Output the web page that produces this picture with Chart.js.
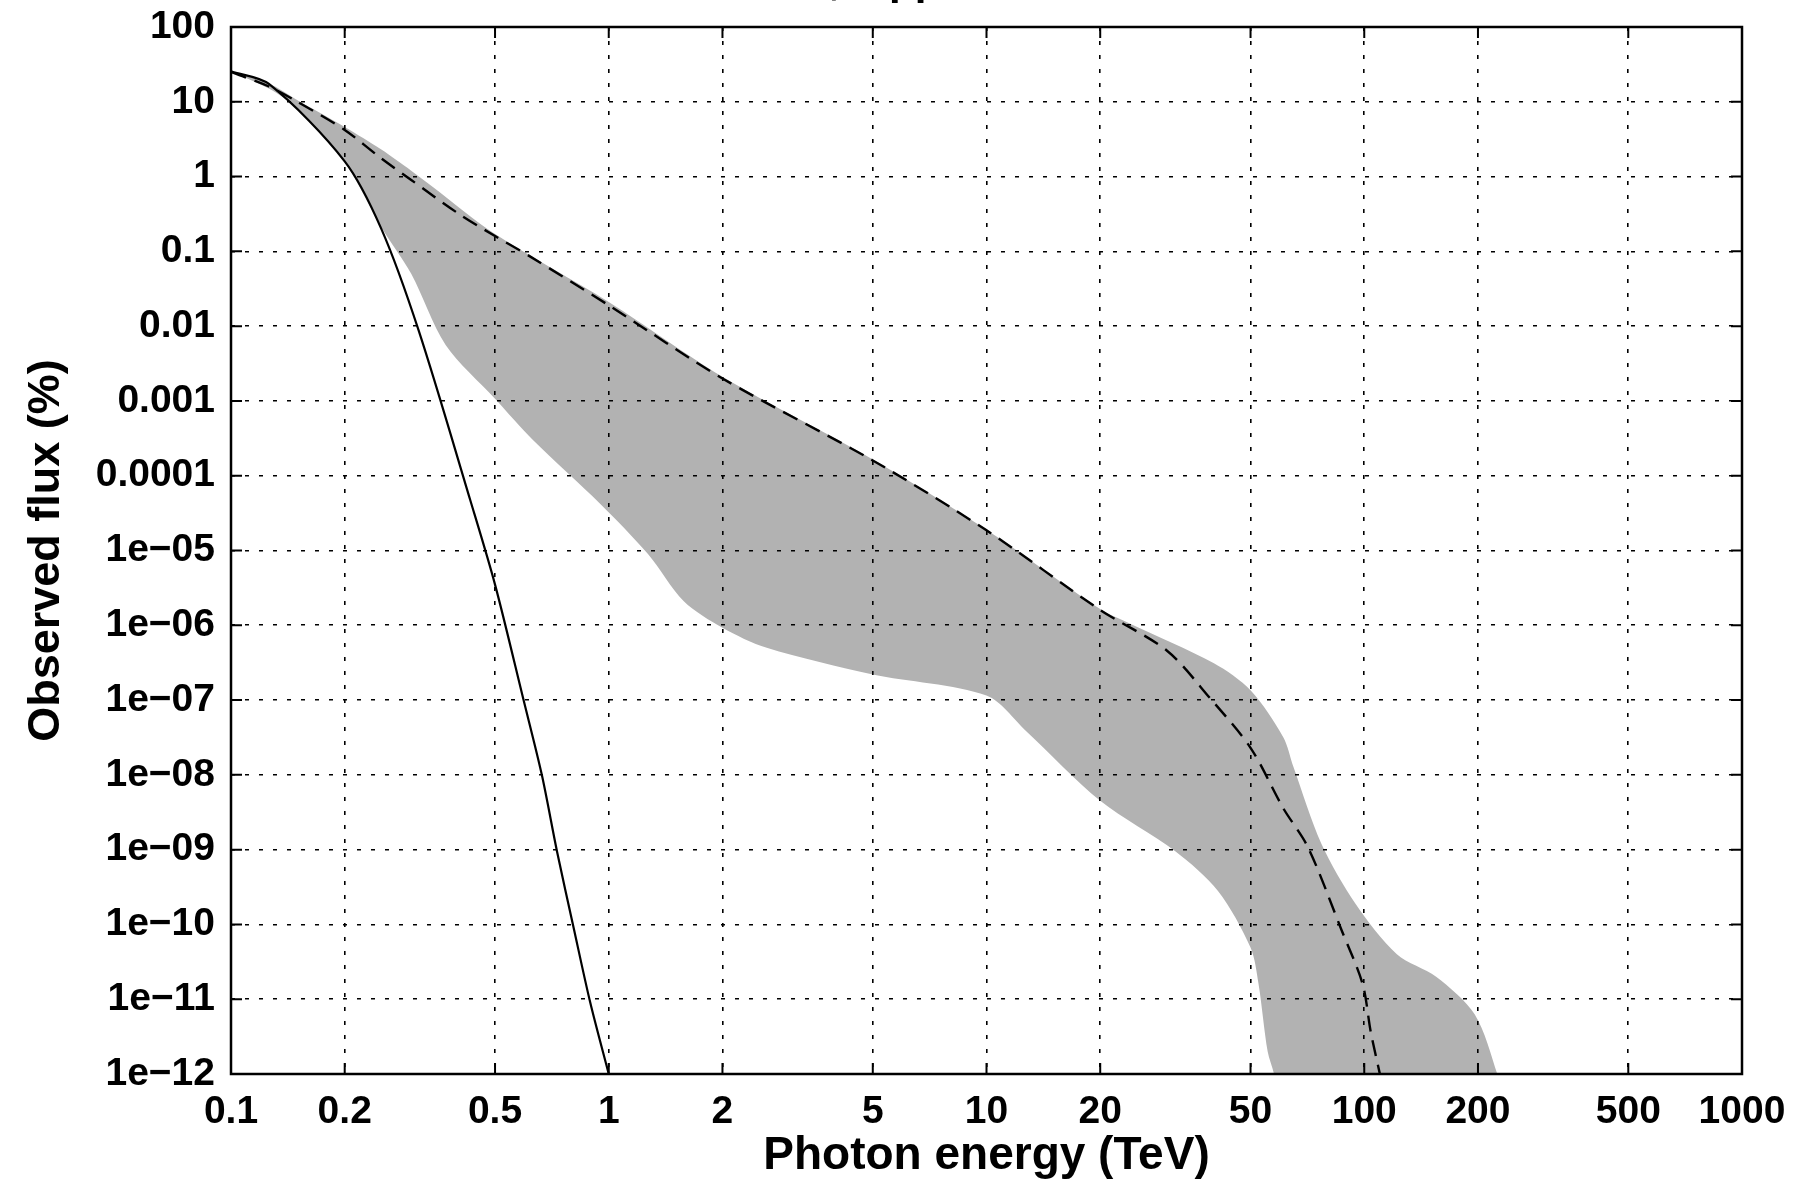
<!DOCTYPE html>
<html>
<head>
<meta charset="utf-8">
<script src="https://cdn.jsdelivr.net/npm/chart.js@4.4.1/dist/chart.umd.min.js"></script>
<style>
  html, body { margin: 0; padding: 0; background: #fff; }
</style>
</head>
<body>
<canvas id="graphCanvas" width="1809" height="1184"></canvas>
<script>
// 実線（急峻に減衰する曲線）
const solidEnergy = [0.1, 0.126, 0.2, 0.25, 0.314, 0.43, 0.5, 0.595, 0.665, 0.73, 0.807, 0.893, 1.0];
const solidFlux = [25.5, 17.3, 1.6, 0.2, 0.0087, 4.7e-5, 3.5e-6, 1e-7, 1e-8, 9.3e-10, 9.1e-11, 9.1e-12, 1e-12];

// 破線
const dashedEnergy = [0.1, 0.126, 0.15, 0.2, 0.25, 0.3, 0.4, 0.5, 0.62, 1, 2, 5, 10, 20, 30, 39, 50, 61, 71, 87, 99, 104, 110];
const dashedFlux = [25, 16, 10, 4.2, 1.75, 0.9, 0.32, 0.16, 0.085, 0.019, 0.002, 1.6e-4, 1.86e-5, 1.6e-6, 4.6e-7, 1.07e-7, 2.3e-8, 3.6e-9, 1.07e-9, 8.5e-11, 1.6e-11, 3.7e-12, 1e-12];

// 灰色の帯（上側・下側の境界）
const bandUpperEnergy = [0.1, 0.126, 0.15, 0.2, 0.25, 0.3, 0.343, 0.5, 1, 2, 5, 10, 20, 24, 40, 50, 61, 65, 77, 95, 122, 155, 196, 225, 240];
const bandUpperFlux = [25.5, 17.6, 10.5, 4.6, 2.3, 1.2, 0.72, 0.17, 0.021, 0.0021, 1.65e-4, 1.9e-5, 1.65e-6, 1.05e-6, 3.1e-7, 1.35e-7, 3.2e-8, 1.26e-8, 1.2e-9, 1.86e-10, 4e-11, 2e-11, 6.3e-12, 1e-12, 3e-13];
const bandLowerEnergy = [0.1, 0.126, 0.15, 0.2, 0.25, 0.3, 0.37, 0.5, 0.63, 0.95, 1.27, 1.58, 2, 2.62, 5, 10, 12.7, 20, 31.6, 41, 50, 52.5, 55.5, 57.7, 59];
const bandLowerFlux = [25.5, 15, 8.1, 1.55, 0.21, 0.05, 0.0056, 0.00107, 3e-4, 4.2e-5, 9e-6, 2.1e-6, 9.3e-7, 5e-7, 2.2e-7, 1.15e-7, 3.9e-8, 4.5e-9, 9.5e-10, 2.8e-10, 4.9e-11, 1.6e-11, 2e-12, 1e-12, 5e-13];

// 目盛り
const xTickValues = [0.1, 0.2, 0.5, 1, 2, 5, 10, 20, 50, 100, 200, 500, 1000];
const xTickLabels = ["0.1", "0.2", "0.5", "1", "2", "5", "10", "20", "50", "100", "200", "500", "1000"];
const yTickValues = [1e-12, 1e-11, 1e-10, 1e-9, 1e-8, 1e-7, 1e-6, 1e-5, 1e-4, 1e-3, 1e-2, 1e-1, 1, 10, 100];
const yTickLabels = ["1e\u221212", "1e\u221211", "1e\u221210", "1e\u221209", "1e\u221208", "1e\u221207", "1e\u221206", "1e\u221205",
  "0.0001", "0.001", "0.01", "0.1", "1", "10", "100"];

// 上端で切れているタイトルの一部
const titleComma = ",";
const titlePp = "pp";

const FONT = "'Liberation Sans', Arial, sans-serif";

const toPoints = (xs, ys) => xs.map((x, i) => ({ x: x, y: ys[i] }));

// 帯は上側を左→右、下側を右→左でつないだ閉じた図形
const bandPoints = toPoints(bandUpperEnergy, bandUpperFlux)
  .concat(toPoints(bandLowerEnergy, bandLowerFlux).reverse());

const frameTicks = {
  id: "frameTicks",
  afterDraw(chart) {
    const { ctx, chartArea: a, scales } = chart;
    const xs = scales.x, ys = scales.y;
    ctx.save();
    ctx.strokeStyle = "#000";
    ctx.lineWidth = 2;
    ctx.setLineDash([]);
    ctx.beginPath();
    xTickValues.forEach((v) => {
      const px = xs.getPixelForValue(v);
      if (px <= a.left + 1 || px >= a.right - 1) return;
      ctx.moveTo(px, a.bottom);
      ctx.lineTo(px, a.bottom - 11);
      ctx.moveTo(px, a.top);
      ctx.lineTo(px, a.top + 11);
    });
    yTickValues.forEach((v) => {
      const py = ys.getPixelForValue(v);
      if (py <= a.top + 1 || py >= a.bottom - 1) return;
      ctx.moveTo(a.left, py);
      ctx.lineTo(a.left + 11, py);
      ctx.moveTo(a.right, py);
      ctx.lineTo(a.right - 11, py);
    });
    ctx.stroke();
    ctx.lineWidth = 2.5;
    ctx.strokeRect(a.left, a.top, a.right - a.left, a.bottom - a.top);

    ctx.font = "bold 42px " + FONT;
    ctx.fillStyle = "#000";
    ctx.textBaseline = "alphabetic";
    ctx.textAlign = "left";
    ctx.fillText(titleComma, 829, -6);
    ctx.fillText(titlePp, 889, -6);
    ctx.restore();
  },
};

let ctx = document.getElementById("graphCanvas").getContext("2d");

let data = {
  datasets: [
    {
      label: "solid",
      data: toPoints(solidEnergy, solidFlux),
      showLine: true,
      pointRadius: 0,
      borderColor: "#000",
      borderWidth: 2.2,
      tension: 0.3,
      fill: false,
    },
    {
      label: "dashed",
      data: toPoints(dashedEnergy, dashedFlux),
      showLine: true,
      pointRadius: 0,
      borderColor: "#000",
      borderWidth: 2.4,
      borderDash: [16, 9],
      tension: 0.3,
      fill: false,
    },
    {
      label: "band",
      data: bandPoints,
      showLine: true,
      pointRadius: 0,
      borderWidth: 0,
      borderColor: "rgba(0,0,0,0)",
      backgroundColor: "#b2b2b2",
      tension: 0.3,
      fill: "shape",
    },
  ],
};

let options = {
  responsive: false,
  animation: false,
  maintainAspectRatio: false,
  layout: { padding: { top: 27, right: 67, left: 0, bottom: 0 } },
  plugins: {
    legend: { display: false },
    tooltip: { enabled: false },
    title: { display: false },
  },
  scales: {
    x: {
      type: "logarithmic",
      min: 0.1,
      max: 1000,
      afterBuildTicks: (scale) => {
        scale.ticks = xTickValues.map((v) => ({ value: v }));
      },
      afterFit: (scale) => {
        scale.height = 110;
        scale.paddingLeft = 0;
        scale.paddingRight = 0;
      },
      grid: { display: true, drawTicks: false, color: "#000", lineWidth: 1.6, z: 1 },
      border: { display: false, dash: [4, 10] },
      ticks: {
        autoSkip: false,
        maxRotation: 0,
        padding: 15,
        color: "#000",
        font: { family: FONT, size: 39, weight: "bold" },
        callback: (value, index) => xTickLabels[index],
      },
      title: {
        display: true,
        text: "Photon energy (TeV)",
        color: "#000",
        padding: { top: 0, bottom: 0 },
        font: { family: FONT, size: 46, weight: "bold" },
      },
    },
    y: {
      type: "logarithmic",
      min: 1e-12,
      max: 100,
      afterBuildTicks: (scale) => {
        scale.ticks = yTickValues.map((v) => ({ value: v }));
      },
      afterFit: (scale) => {
        scale.width = 231;
        scale.paddingTop = 0;
        scale.paddingBottom = 0;
      },
      grid: { display: true, drawTicks: false, color: "#000", lineWidth: 1.6, z: 1 },
      border: { display: false, dash: [4, 10] },
      ticks: {
        autoSkip: false,
        padding: 16,
        color: "#000",
        font: { family: FONT, size: 39, weight: "bold" },
        callback: (value, index) => yTickLabels[index],
      },
      title: {
        display: true,
        text: "Observed flux (%)",
        color: "#000",
        padding: { top: 20, bottom: 0 },
        font: { family: FONT, size: 45, weight: "bold" },
      },
    },
  },
};

let graphChart = new Chart(ctx, {
  type: "scatter",
  data: data,
  options: options,
  plugins: [frameTicks],
});
</script>
</body>
</html>
